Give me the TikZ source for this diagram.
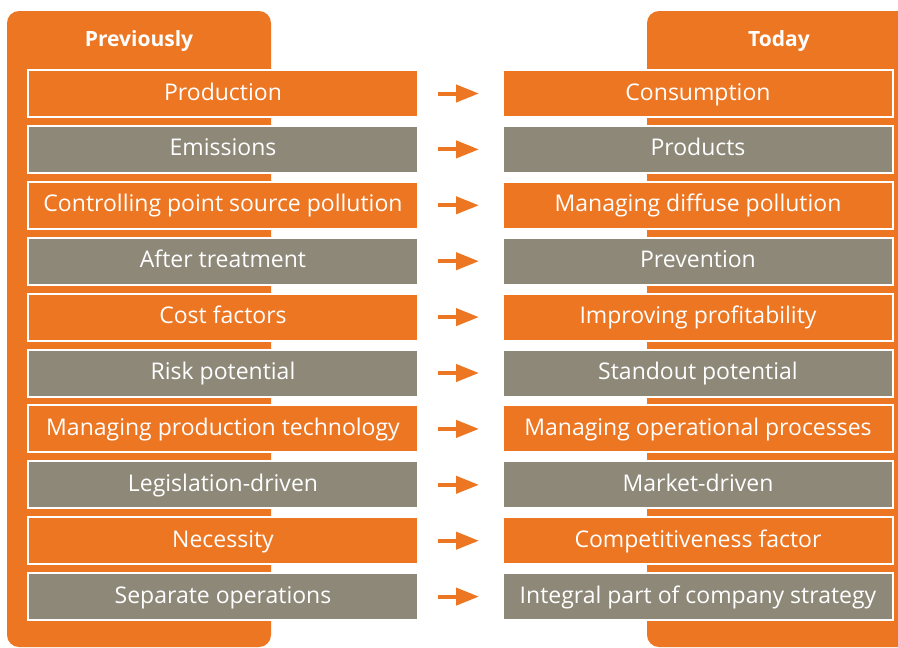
\documentclass[tikz,border=0pt]{standalone}
\usepackage{fontspec}
\setmainfont{Open Sans}
\usetikzlibrary{arrows.meta}
\definecolor{orng}{RGB}{237,118,35}
\definecolor{gry}{RGB}{142,136,121}
\tikzset{
  panel/.style={fill=orng, draw=none, rounded corners=12pt},
  rowbox/.style={draw=white, line width=2pt, minimum width=390pt, minimum height=47pt, inner sep=0pt, text=white, text height=18pt, text depth=5pt, font=\fontsize{23}{25}\selectfont},
  orbox/.style={rowbox, fill=orng},
  gybox/.style={rowbox, fill=gry},
  headtext/.style={text=white, anchor=base, font=\fontsize{21}{24}\selectfont\bfseries},
  arr/.style={draw=orng, line width=4pt, -{Triangle[length=23pt,width=17pt]}}
}
\begin{document}
\begin{tikzpicture}[x=1pt,y=-1pt]
\useasboundingbox (0,0) rectangle (898,648);
\fill[white] (0,0) rectangle (898,648);
\path[panel] (7,11) rectangle (271,647);
\path[panel] (647,11) rectangle (915,647);
\node[headtext] (hp) at (139,46.5) {Previously};
\node[headtext] (ht) at (779,46.5) {Today};
\foreach \i/\st/\a/\b in {
  0/orbox/Production/Consumption,
  1/gybox/Emissions/Products,
  2/orbox/Controlling point source pollution/Managing diffuse pollution,
  3/gybox/After treatment/Prevention,
  4/orbox/Cost factors/Improving profitability,
  5/gybox/Risk potential/Standout potential,
  6/orbox/Managing production technology/Managing operational processes,
  7/gybox/Legislation-driven/Market-driven,
  8/orbox/Necessity/Competitiveness factor,
  9/gybox/Separate operations/Integral part of company strategy}{
  \node[\st] (l\i) at (223,93.5+55.9*\i) {\a};
  \node[\st] (r\i) at (698,93.5+55.9*\i) {\b};
  \draw[arr] ([xshift=19pt]l\i.east) -- ([xshift=-23pt]r\i.west);
}
\end{tikzpicture}
\end{document}
